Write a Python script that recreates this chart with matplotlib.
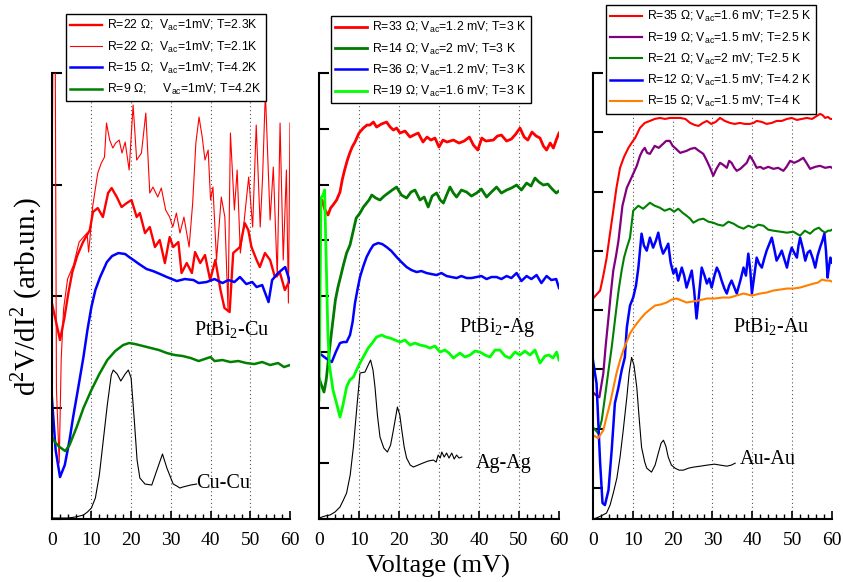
import matplotlib
matplotlib.use("Agg")
from matplotlib import pyplot as plt
from matplotlib.ticker import MultipleLocator

plt.rcParams['font.family'] = ['Liberation Serif', 'DejaVu Serif']
plt.rcParams['mathtext.fontset'] = 'custom'
plt.rcParams['mathtext.rm'] = 'Liberation Serif'
plt.rcParams['mathtext.sf'] = 'Liberation Sans'

# ---------------- PtBi2-Cu ----------------
cu_x = [0, 2, 4, 6, 8, 9, 10, 11, 12, 13, 14, 15, 15.5, 16.5, 17.4, 18.5, 19.3, 20, 20.8, 21.5,
        22.2, 23.5, 25.2, 26.5, 27.9, 29, 30.6, 31.5, 32.3, 33, 34, 35, 36.5]
cu_y = [1, 1, 1, 2, 4, 7, 11, 21, 44, 79, 114, 144, 149, 145, 138, 145, 149, 141, 99, 59,
        41, 35, 34, 49, 65, 51, 35, 33, 31, 32, 33, 34, 35]

r9_x = [0, 1, 2, 3.4, 4.5, 6.3, 8, 10, 12, 14, 16, 18, 19.5, 21, 23, 25, 27, 29, 31, 33, 35, 37,
        38.5, 40, 41, 43, 45, 47, 49, 51, 53, 55, 57, 58.5, 60]
r9_y = [82, 76, 72, 68, 74, 92, 111, 129, 145, 159, 168, 174, 176, 175, 173, 171, 169, 166, 164,
        163, 161, 158, 160, 162, 158, 159, 157, 158, 156, 155, 157, 154, 156, 152, 154]

r15_x = [0, 1, 2.1, 3.3, 4.5, 5.4, 6.5, 8, 9, 10, 11, 12.2, 13.9, 15.2, 16.8, 18.5, 19.5, 20.6, 22,
         23.9, 25.5, 27.3, 29, 31.5, 33.5, 35.7, 37, 39, 41, 43, 44.5, 46, 47.4, 49, 50.5, 51.6,
         53, 54.6, 55.5, 57, 58.8, 60]
r15_y = [124, 69, 42, 54, 79, 102, 127, 162, 189, 212, 229, 242, 257, 263, 266, 265, 262, 259, 255,
         250, 248, 245, 242, 238, 240, 239, 236, 237, 240, 236, 239, 237, 242, 235, 237, 232,
         234, 217, 239, 246, 252, 237]

r22a_x = [0, 1, 2.1, 3.2, 4.2, 5.2, 6.5, 7.9, 9.6, 10.4, 11.6, 12.9, 14.2, 15.1, 16.4, 17.6, 18.9,
          20.1, 21.4, 22.2, 23.5, 24.7, 26, 27.2, 28.5, 29.7, 30.6, 31.9, 32.7, 34, 35.3, 36.1,
          37.4, 38.6, 39.9, 41.2, 42.5, 43.5, 44.8, 45.7, 47.4, 48.6, 49.5, 50.3, 51.6, 52.4,
          53.7, 55, 56.2, 57.5, 58.7, 60]
r22a_y = [217, 199, 179, 201, 226, 247, 264, 277, 289, 307, 311, 302, 326, 331, 322, 312, 316,
          319, 302, 306, 286, 292, 272, 279, 256, 282, 272, 277, 246, 256, 246, 267,
          256, 264, 239, 259, 229, 211, 207, 266, 272, 296, 289, 272, 259, 252,
          266, 259, 242, 246, 229, 239]

r22b_x = [0, 0.3, 0.9, 1.2, 1.9, 2.4, 3.0, 4.0, 5.5, 6.9, 8.9, 9.3, 9.6, 10.3, 11.6, 12.5, 13.3,
          13.8, 14.6, 15.4, 16.1, 17, 17.7, 18.5, 19.5, 20.5, 21.4, 22.6, 23.7, 24.7, 25.5, 26.7,
          27.6, 28.7, 29.7, 30.5, 31.4, 32.3, 33.3, 34.6, 35.5, 36.3, 37.1, 37.9, 38.6, 39.4, 40,
          40.6, 41.5, 42.7, 43.6, 44.4, 45, 46, 46.7, 47.5, 48.3, 49.6, 50.6, 51.5, 52.5, 53.1,
          53.8, 55, 55.8, 56.8, 57.5, 58.3, 59.1, 59.6, 60]
r22b_y = [250, 460, 460, 130, 56, 160, 210, 240, 254, 277, 286, 267, 279, 312, 346, 356, 362,
          396, 379, 371, 376, 379, 366, 377, 349, 414, 359, 366, 406, 326, 332, 322,
          331, 309, 302, 292, 306, 286, 302, 272, 316, 376, 402, 382, 359, 369, 319,
          332, 259, 322, 302, 209, 386, 309, 349, 266, 292, 342, 292, 394, 292, 342,
          427, 299, 352, 242, 396, 259, 349, 216, 396]

# ---------------- PtBi2-Ag ----------------
ag_x = [0, 1.5, 2.75, 4, 5.25, 6.1, 6.9, 7.8, 8.6, 9.4, 10.25, 11.5, 12.3, 12.9, 13.5, 14, 14.6,
        15.25, 16.2, 17.1, 17.9, 18.6, 19.6, 20.2, 20.7, 21.3, 21.9, 22.8, 23.6, 24.8, 26, 27.3,
        28.6, 29.3, 29.8, 30.3, 30.7, 31.3, 31.9, 32.5, 33.2, 33.8, 34.4, 35, 35.7]
ag_y = [1, 3, 4, 7, 12, 19, 26, 44, 72, 109, 146, 147, 154, 159, 149, 132, 104,
        82, 71, 67, 74, 89, 112, 104, 89, 72, 61, 54, 52, 54, 56, 58,
        59, 57, 64, 61, 67, 62, 66, 61, 66, 60, 64, 61, 62]

r33_x = [0, 0.75, 1.5, 2.25, 2.9, 3.5, 4.4, 5.25, 5.8, 6.4, 7.1, 7.7, 8.3, 9, 10, 11.1, 12, 12.75,
         13.6, 14.4, 15.6, 16.9, 17.8, 18.6, 19.4, 20.25, 21.5, 22.75, 23.7, 24.8, 26, 27, 28, 29,
         30, 31, 32, 33.6, 35, 36.3, 37.6, 38.6, 39.7, 40.7, 41.7, 43.6, 44.6, 45.6, 46.9, 48.1,
         49.2, 50.25, 51.3, 52.2, 53.25, 54.3, 55.25, 56.1, 56.9, 57.8, 58.6, 59.3, 60]
r33_y = [314, 319, 309, 304, 311, 314, 319, 327, 339, 349, 359, 366, 372, 377, 386, 391, 394, 394,
         397, 392, 395, 397, 392, 389, 391, 386, 388, 382, 384, 386, 377, 382, 379, 381,
         372, 379, 377, 379, 376, 378, 382, 374, 369, 381, 378, 379, 383, 384, 378, 380,
         385, 391, 382, 379, 387, 383, 381, 373, 369, 376, 371, 379, 386]

r14_x = [0, 0.6, 1.25, 1.8, 2.25, 2.9, 3.5, 4.1, 4.75, 5.5, 6.1, 6.9, 7.75, 8.5, 9.3, 10.25, 11.1,
         11.9, 12.5, 13.2, 14.2, 15.25, 16.3, 17.3, 18.3, 19.4, 20.6, 21.9, 23, 24, 25.25, 26.3,
         27.3, 28.3, 29.4, 30.3, 31.1, 32, 32.75, 33.6, 34.4, 35.6, 36.9, 38.1, 39.4, 40.6, 41.9,
         43.1, 44.4, 45.6, 46.9, 48.1, 49.4, 50.6, 51.9, 53, 54, 55, 56.1, 57.2, 58.3, 59.3, 60]
r14_y = [141, 134, 127, 139, 156, 179, 199, 219, 232, 244, 254, 266, 274, 287, 301, 306, 312,
         316, 319, 324, 321, 319, 323, 326, 329, 332, 324, 321, 327, 329, 319, 322,
         312, 323, 326, 319, 316, 325, 332, 326, 322, 329, 327, 323, 326, 330, 322,
         327, 332, 326, 329, 331, 334, 329, 336, 333, 341, 337, 334, 335, 330, 326, 328]

r36_x = [0, 1, 2, 3.2, 4.2, 5.25, 6.1, 6.9, 7.75, 8.4, 9, 9.6, 10.25, 11.1, 11.9, 12.8, 13.6, 14.8,
         15.8, 16.9, 18.1, 19.4, 20.6, 21.9, 23.1, 24.4, 25.6, 26.9, 28.1, 29.4, 30.6, 31.9, 33.1,
         34.4, 35.6, 36.9, 38.1, 39.4, 40.6, 41.9, 43.1, 44.4, 45.6, 46.9, 48.1, 49.4, 50.6, 51.9,
         53.1, 54.4, 55.6, 56.9, 58.1, 59.3, 60]
r36_y = [166, 163, 160, 157, 167, 176, 177, 177, 184, 197, 216, 229, 242, 253, 262, 269, 274, 276,
         275, 272, 268, 262, 257, 252, 249, 247, 248, 246, 245, 244, 246, 243, 242,
         241, 243, 241, 241, 242, 243, 240, 242, 242, 240, 243, 241, 246, 238, 243,
         240, 244, 236, 243, 239, 240, 231]

r19_x = [0, 0.5, 1.0, 1.4, 1.8, 2.2, 2.6, 3.5, 4.5, 5.25, 6, 6.9, 7.7, 8.6, 9.4, 10.25, 11.2, 12.3,
         13.3, 14.4, 15.7, 16.7, 17.75, 19, 20.25, 21.5, 22.75, 24, 25.25, 26.5, 27.75, 29, 30.25,
         31.5, 32.5, 33.6, 35.25, 36.5, 37.75, 39, 40.25, 41.5, 42.75, 44, 45.25, 46.5, 47.75, 49,
         50.25, 51.5, 52.75, 54, 55.25, 56.5, 57.5, 58.5, 59.4, 60]
r19_y = [119, 321, 324, 329, 259, 189, 154, 129, 114, 102, 114, 132, 139, 142, 149, 156, 163, 171,
         176, 182, 184, 182, 181, 179, 177, 179, 174, 176, 174, 173, 171, 173, 167,
         169, 166, 161, 166, 162, 164, 168, 167, 164, 162, 169, 169, 163, 161, 167,
         164, 168, 164, 169, 156, 163, 164, 161, 167, 159]

# ---------------- PtBi2-Au ----------------
au_x = [0, 0.8, 2, 3.4, 4.3, 5.1, 6, 6.8, 7.6, 8.5, 9.1, 9.7, 10.3, 11, 11.6, 12.2, 13, 13.5, 14.7,
        15.6, 16.4, 17.1, 17.7, 18.3, 18.9, 19.7, 20.6, 21.6, 22.7, 24, 25.2, 27, 28.6, 30.5, 32,
        33.6, 34.7, 35.7]
au_y = [0, 1, 3, 6, 14, 26, 41, 62, 89, 122, 147, 162, 154, 132, 101, 72, 57, 51, 47,
        54, 66, 76, 79, 73, 62, 54, 51, 49, 49, 51, 52, 53, 54, 55, 54,
        53, 54, 56]

r35_x = [0, 0.9, 1.8, 2.6, 3.4, 4.2, 5.1, 5.9, 6.8, 7.8, 8.9, 9.7, 10.6, 11.8, 13, 14.3, 15.5, 16.8,
         18.1, 19.3, 20.6, 21.9, 23.2, 24.4, 25.5, 26.5, 27.6, 28.6, 29.7, 30.8, 31.9, 33.1, 34.4,
         35.6, 36.9, 38.1, 39.4, 40.3, 41.1, 42.4, 43.6, 44.9, 46.1, 47.4, 48.7, 49.9, 51.2, 52.4,
         53.7, 55, 56.2, 57, 57.6, 58.3, 59, 59.6, 60]
r35_y = [221, 225, 229, 244, 261, 284, 309, 332, 352, 363, 372, 377, 382, 392, 397, 399, 401, 402,
         401, 402, 402, 402, 401, 397, 395, 394, 397, 399, 396, 398, 402, 399, 397,
         396, 397, 396, 396, 397, 399, 398, 396, 397, 399, 399, 401, 402, 400, 401,
         402, 401, 404, 406, 405, 402, 403, 401, 401]

r19b_x = [0, 0.8, 1.6, 2.6, 3.2, 3.9, 4.5, 5.1, 5.8, 6.4, 7.4, 8.5, 9.3, 10.1, 11, 11.8, 12.4, 13,
          13.6, 14.3, 15.5, 16.5, 17.6, 18.4, 19.3, 20, 20.6, 21.9, 23.5, 24.5, 25.6, 26.6, 27.7,
          28.6, 29.4, 30.2, 31, 31.9, 32.7, 33.6, 34.2, 34.8, 35.5, 36.1, 37, 37.8, 38.6, 39.4,
          40.2, 41.1, 42, 42.8, 44, 45.3, 46.5, 47.8, 48.6, 49.5, 50.5, 51.6, 52.8, 53.6, 54.5,
          55.8, 57, 58.3, 59.6, 60]
r19b_y = [127, 124, 122, 146, 174, 202, 227, 249, 264, 279, 314, 332, 339, 346, 354, 364, 369, 372,
          367, 366, 374, 372, 376, 379, 379, 374, 372, 367, 369, 371, 372, 369, 366,
          359, 352, 344, 351, 357, 355, 352, 359, 357, 352, 349, 351, 354, 357, 364,
          359, 352, 353, 351, 353, 351, 352, 349, 353, 359, 357, 359, 362, 357, 351,
          353, 354, 352, 353, 352]

r21_x = [0, 1.3, 2.2, 3, 3.9, 4.7, 5.3, 5.9, 6.5, 7.2, 7.8, 8.5, 9.3, 10.1, 11.4, 12.6, 14.3, 15.5,
         16.8, 18, 19.3, 20.4, 21.4, 22.5, 23.5, 24.4, 25.2, 26.5, 27.7, 29, 30.2, 31.4, 32.7, 34,
         35.3, 36.5, 37.8, 39, 40.3, 41.5, 42.8, 44, 45.3, 47, 48.7, 50.3, 52, 53.2, 54.5, 55.6,
         56.7, 57.5, 58.3, 59, 59.6, 60]
r21_y = [92, 86, 99, 122, 149, 172, 192, 212, 231, 249, 262, 272, 282, 309, 314, 311, 317, 314,
         312, 309, 311, 308, 311, 307, 304, 301, 297, 300, 301, 298, 297, 295, 294, 298,
         296, 293, 291, 294, 292, 295, 294, 290, 289, 288, 287, 288, 284, 289, 286, 290,
         292, 289, 287, 289, 289, 290]

r12_x = [0, 0.9, 1.8, 2.4, 3, 3.9, 4.7, 5.5, 6.4, 7.2, 8, 8.5, 9.3, 10.1, 10.8, 11.4, 12.2, 12.8,
         13.5, 14.3, 15.1, 15.8, 16.4, 17, 17.6, 18.3, 18.9, 19.5, 20.2, 20.8, 21.4, 22.3, 22.9,
         23.5, 24.2, 24.8, 25.4, 26, 26.6, 27.3, 28, 28.6, 29.2, 29.8, 30.5, 31.1, 31.7, 32.3, 33,
         33.6, 34.2, 34.8, 35.5, 36.1, 37, 37.8, 38.4, 39, 39.5, 39.9, 40.5, 41.1, 41.7, 42.4, 43,
         43.6, 44.3, 44.9, 45.5, 46.1, 46.8, 47.4, 48, 48.7, 49.3, 49.9, 50.5, 51.2, 51.6, 52,
         52.7, 53.3, 53.9, 54.5, 55.2, 55.8, 56.4, 57, 57.6, 58.1, 58.5, 58.9, 59.3, 59.6, 60]
r12_y = [159, 136, 56, 16, 14, 29, 69, 116, 132, 149, 162, 192, 214, 222, 234, 252, 286, 274,
         269, 282, 272, 279, 287, 274, 266, 271, 276, 257, 246, 251, 239, 252, 244,
         232, 241, 249, 229, 201, 224, 252, 244, 236, 241, 232, 244, 252, 247, 239, 231,
         226, 234, 239, 232, 226, 239, 252, 244, 266, 249, 226, 244, 262, 256, 252, 261,
         269, 276, 282, 271, 259, 264, 269, 261, 252, 264, 272, 267, 262, 274, 282,
         271, 259, 267, 269, 261, 252, 264, 272, 279, 286, 269, 242, 254, 262, 257]

r15b_x = [0, 1.3, 2.6, 3.4, 4.3, 5.1, 5.9, 6.8, 7.6, 8.5, 9.3, 10.1, 11, 12, 13.1, 14.3, 15.6, 17,
          18.5, 19.8, 21, 22.3, 23.5, 25, 26.5, 28.6, 30.5, 32.5, 34.4, 36, 37.8, 39.9, 42, 43.6,
          45.3, 47, 48.7, 50.3, 52, 53.7, 55.4, 56.5, 57.5, 58.5, 59.4, 60]
r15b_y = [84, 81, 89, 102, 116, 131, 146, 159, 169, 178, 186, 191, 196, 201, 206, 210, 214, 215,
          217, 220, 221, 219, 217, 218, 219, 221, 221, 222, 222, 224, 226, 224, 226, 227,
          229, 230, 231, 231, 232, 234, 236, 237, 240, 239, 239, 238]

leg_cu = [r'R=22 Ω;  V$_{\mathsf{ac}}$=1mV; T=2.3K',
          r'R=22 Ω;  V$_{\mathsf{ac}}$=1mV; T=2.1K',
          r'R=15 Ω;  V$_{\mathsf{ac}}$=1mV; T=4.2K',
          r'R=9 Ω;     V$_{\mathsf{ac}}$=1mV; T=4.2K']
leg_ag = [r'R=33 Ω; V$_{\mathsf{ac}}$=1.2 mV; T=3 K',
          r'R=14 Ω; V$_{\mathsf{ac}}$=2 mV; T=3 K',
          r'R=36 Ω; V$_{\mathsf{ac}}$=1.2 mV; T=3 K',
          r'R=19 Ω; V$_{\mathsf{ac}}$=1.6 mV; T=3 K']
leg_au = [r'R=35 Ω; V$_{\mathsf{ac}}$=1.6 mV; T=2.5 K',
          r'R=19 Ω; V$_{\mathsf{ac}}$=1.5 mV; T=2.5 K',
          r'R=21 Ω; V$_{\mathsf{ac}}$=2 mV; T=2.5 K',
          r'R=12 Ω; V$_{\mathsf{ac}}$=1.5 mV; T=4.2 K',
          r'R=15 Ω; V$_{\mathsf{ac}}$=1.5 mV; T=4 K']

fig = plt.figure(figsize=(8.43, 5.82), dpi=100)
ax1 = fig.add_axes([0.0613, 0.1082, 0.2827, 0.7663])
ax2 = fig.add_axes([0.3784, 0.1082, 0.2847, 0.7663])
ax3 = fig.add_axes([0.7034, 0.1082, 0.2835, 0.7663])

def setup(ax, yticks, ytop):
    ax.set_xlim(0, 60)
    ax.set_ylim(0, ytop)
    ax.set_xticks(range(0, 61, 10))
    ax.xaxis.set_minor_locator(MultipleLocator(2))
    ax.set_yticks(yticks)
    ax.set_yticklabels([])
    for s in ['top', 'right']:
        ax.spines[s].set_visible(False)
    for s in ['left', 'bottom']:
        ax.spines[s].set_linewidth(1.5)
    ax.tick_params(which='major', direction='in', length=6, width=1.2, labelsize=14, pad=9)
    ax.tick_params(which='minor', direction='in', length=3.5, width=1.0)
    ax.tick_params(axis='y', which='major', length=7, width=1.5)
    for v in range(10, 60, 10):
        ax.axvline(v, color='#555555', linestyle=(0, (1, 2.5)), linewidth=0.8, zorder=0)

setup(ax1, [111.5 * k for k in range(5)], 446)
setup(ax2, [55.75 * k for k in range(9)], 446)
setup(ax3, [447 - 59.4 * k for k in range(8)], 447)

leg_kw = dict(loc='upper left', frameon=True, fancybox=False, framealpha=1, edgecolor='black',
              prop={'family': 'Liberation Sans', 'size': 8.8}, handlelength=2.6,
              labelspacing=0.5, borderpad=0.35, handletextpad=0.4, borderaxespad=0)

# panel 1
l1, = ax1.plot(r22a_x, r22a_y, color='#ff0000', lw=1.7)
l2, = ax1.plot(r22b_x, r22b_y, color='#ff0000', lw=0.8)
l3, = ax1.plot(r15_x, r15_y, color='#0000ff', lw=1.8)
l4, = ax1.plot(r9_x, r9_y, color='#008000', lw=1.8)
ax1.plot(cu_x, cu_y, color='black', lw=0.8)
lg = ax1.legend([l1, l2, l3, l4], leg_cu, bbox_to_anchor=(0.0783, 0.976),
                bbox_transform=fig.transFigure, **leg_kw)
lg.get_frame().set_linewidth(1.0)
ax1.text(45.4, 189, r'PtBi$_{\mathrm{2}}$-Cu', ha='center', va='center', fontsize=14.5)
ax1.text(36.4, 36, 'Cu-Cu', ha='left', va='center', fontsize=14.5)

# panel 2
m1, = ax2.plot(r33_x, r33_y, color='#ff0000', lw=2.0)
m2, = ax2.plot(r14_x, r14_y, color='#007a00', lw=2.0)
m3, = ax2.plot(r36_x, r36_y, color='#0000ff', lw=1.8)
m4, = ax2.plot(r19_x, r19_y, color='#00ff00', lw=2.0)
ax2.plot(ag_x, ag_y, color='black', lw=0.8)
lg = ax2.legend([m1, m2, m3, m4], leg_ag, bbox_to_anchor=(0.3927, 0.9725),
                bbox_transform=fig.transFigure, **leg_kw)
lg.get_frame().set_linewidth(1.0)
ax2.text(44.5, 192, r'PtBi$_{\mathrm{2}}$-Ag', ha='center', va='center', fontsize=14.5)
ax2.text(39.2, 56, 'Ag-Ag', ha='left', va='center', fontsize=14.5)

# panel 3
n1, = ax3.plot(r35_x, r35_y, color='#ff0000', lw=1.5)
n2, = ax3.plot(r19b_x, r19b_y, color='#800080', lw=1.6)
n3, = ax3.plot(r21_x, r21_y, color='#008000', lw=1.5)
n4, = ax3.plot(r12_x, r12_y, color='#0000ff', lw=1.8)
n5, = ax3.plot(r15b_x, r15b_y, color='#ff8000', lw=1.5)
ax3.plot(au_x, au_y, color='black', lw=0.8)
lg = ax3.legend([n1, n2, n3, n4, n5], leg_au, bbox_to_anchor=(0.7189, 0.9914),
                bbox_transform=fig.transFigure, **leg_kw)
lg.get_frame().set_linewidth(1.0)
ax3.text(44.7, 192, r'PtBi$_{\mathrm{2}}$-Au', ha='center', va='center', fontsize=14.5)
ax3.text(36.9, 60, 'Au-Au', ha='left', va='center', fontsize=14.5)

fig.text(0.031, 0.491, r'd$^{\mathrm{2}}$V/dI$^{\mathrm{2}}$ (arb.un.)', rotation=90,
         ha='center', va='center', fontsize=21)
fig.text(0.52, 0.026, 'Voltage (mV)', ha='center', va='center', fontsize=19)

fig.savefig('out.png', dpi=100)
